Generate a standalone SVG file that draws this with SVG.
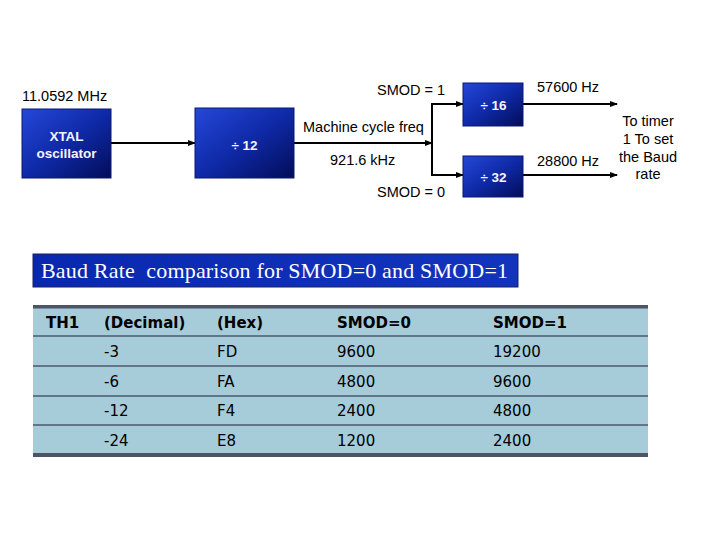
<svg xmlns="http://www.w3.org/2000/svg" width="720" height="540" viewBox="0 0 720 540">
<defs>
<linearGradient id="boxg" x1="0" y1="0" x2="1" y2="1">
<stop offset="0" stop-color="#2448d8"/>
<stop offset="0.5" stop-color="#0f2aa8"/>
<stop offset="1" stop-color="#020c58"/>
</linearGradient>
<linearGradient id="bang" x1="0" y1="0" x2="1" y2="0">
<stop offset="0" stop-color="#0928b0"/>
<stop offset="1" stop-color="#1234bc"/>
</linearGradient>
<marker id="ah" markerWidth="8" markerHeight="8" refX="7" refY="4" orient="auto" markerUnits="userSpaceOnUse">
<path d="M0,1 L8,4 L0,7 Z" fill="#000"/>
</marker>
<style>
.box{fill:url(#boxg);stroke:#0a1870;stroke-width:1}
.bt{font-family:"Liberation Sans",Arial,sans-serif;font-size:13.5px;font-weight:bold;fill:#f4f4ff;text-anchor:middle}
.lb{font-family:"Liberation Sans",Arial,sans-serif;font-size:14.5px;fill:#000}
.ln{stroke:#000;stroke-width:2;fill:none}
.th{font-family:"DejaVu Sans",Verdana,sans-serif;font-size:15px;font-weight:bold;fill:#000}
.td{font-family:"DejaVu Sans",Verdana,sans-serif;font-size:15px;fill:#000}
.sep{stroke:#4a5a6e;stroke-width:1.5}
</style>
</defs>
<rect width="720" height="540" fill="#fff"/>

<g id="connectors">
<line class="ln" x1="111" y1="143" x2="195" y2="143" marker-end="url(#ah)"/>
<line class="ln" x1="294" y1="143" x2="432" y2="143" marker-end="url(#ah)"/>
<polyline class="ln" points="462,104 432,104 432,175 462,175"/>
<line class="ln" x1="432" y1="104" x2="463" y2="104" marker-end="url(#ah)"/>
<line class="ln" x1="432" y1="175" x2="463" y2="175" marker-end="url(#ah)"/>
<line class="ln" x1="523" y1="104" x2="617" y2="104" marker-end="url(#ah)"/>
<line class="ln" x1="523" y1="175" x2="617" y2="175" marker-end="url(#ah)"/>
</g>

<g id="xtal">
<rect class="box" x="22" y="109" width="89" height="69"/>
<text class="bt" x="66.5" y="141">XTAL</text>
<text class="bt" x="66.5" y="158">oscillator</text>
</g>
<g id="div12">
<rect class="box" x="195" y="108" width="99" height="70"/>
<text class="bt" x="244.5" y="150">÷ 12</text>
</g>
<g id="div16">
<rect class="box" x="463" y="83" width="60" height="43"/>
<text class="bt" x="493.5" y="110">÷ 16</text>
</g>
<g id="div32">
<rect class="box" x="463" y="156" width="60" height="41"/>
<text class="bt" x="493.5" y="182">÷ 32</text>
</g>

<g id="labels">
<text class="lb" x="22" y="101">11.0592 MHz</text>
<text class="lb" x="303" y="132">Machine cycle freq</text>
<text class="lb" x="330" y="165">921.6 kHz</text>
<text class="lb" x="377" y="95">SMOD = 1</text>
<text class="lb" x="377" y="197">SMOD = 0</text>
<text class="lb" x="537" y="92">57600 Hz</text>
<text class="lb" x="537" y="166">28800 Hz</text>
<g id="target">
<text class="lb" x="648" y="126" text-anchor="middle">To timer</text>
<text class="lb" x="648" y="144" text-anchor="middle">1 To set</text>
<text class="lb" x="648" y="162" text-anchor="middle">the Baud</text>
<text class="lb" x="648" y="179" text-anchor="middle">rate</text>
</g>
</g>

<g id="banner">
<rect x="33" y="254" width="485" height="33" fill="url(#bang)" stroke="#1a2060" stroke-width="1"/>
<text x="41" y="278" font-family="'Liberation Serif','Times New Roman',serif" font-size="22" fill="#fff" style="white-space:pre" textLength="467" lengthAdjust="spacing">Baud Rate  comparison for SMOD=0 and SMOD=1</text>
</g>

<g id="table">
<rect x="33" y="307" width="615" height="148" fill="#a6cbd9"/>
<rect x="33" y="305" width="615" height="3.5" fill="#4c5466"/>
<rect x="33" y="453" width="615" height="4" fill="#4c5466"/>
<line class="sep" x1="33" y1="336" x2="648" y2="336"/>
<line class="sep" x1="33" y1="366" x2="648" y2="366"/>
<line class="sep" x1="33" y1="396" x2="648" y2="396"/>
<line class="sep" x1="33" y1="425" x2="648" y2="425"/>
<text class="th" x="46" y="328">TH1</text>
<text class="th" x="104" y="328">(Decimal)</text>
<text class="th" x="217" y="328">(Hex)</text>
<text class="th" x="337" y="328">SMOD=0</text>
<text class="th" x="493" y="328">SMOD=1</text>
<text class="td" x="104" y="357">-3</text><text class="td" x="217" y="357">FD</text><text class="td" x="337" y="357">9600</text><text class="td" x="493" y="357">19200</text>
<text class="td" x="104" y="387">-6</text><text class="td" x="217" y="387">FA</text><text class="td" x="337" y="387">4800</text><text class="td" x="493" y="387">9600</text>
<text class="td" x="104" y="416">-12</text><text class="td" x="217" y="416">F4</text><text class="td" x="337" y="416">2400</text><text class="td" x="493" y="416">4800</text>
<text class="td" x="104" y="446">-24</text><text class="td" x="217" y="446">E8</text><text class="td" x="337" y="446">1200</text><text class="td" x="493" y="446">2400</text>
</g>
</svg>
